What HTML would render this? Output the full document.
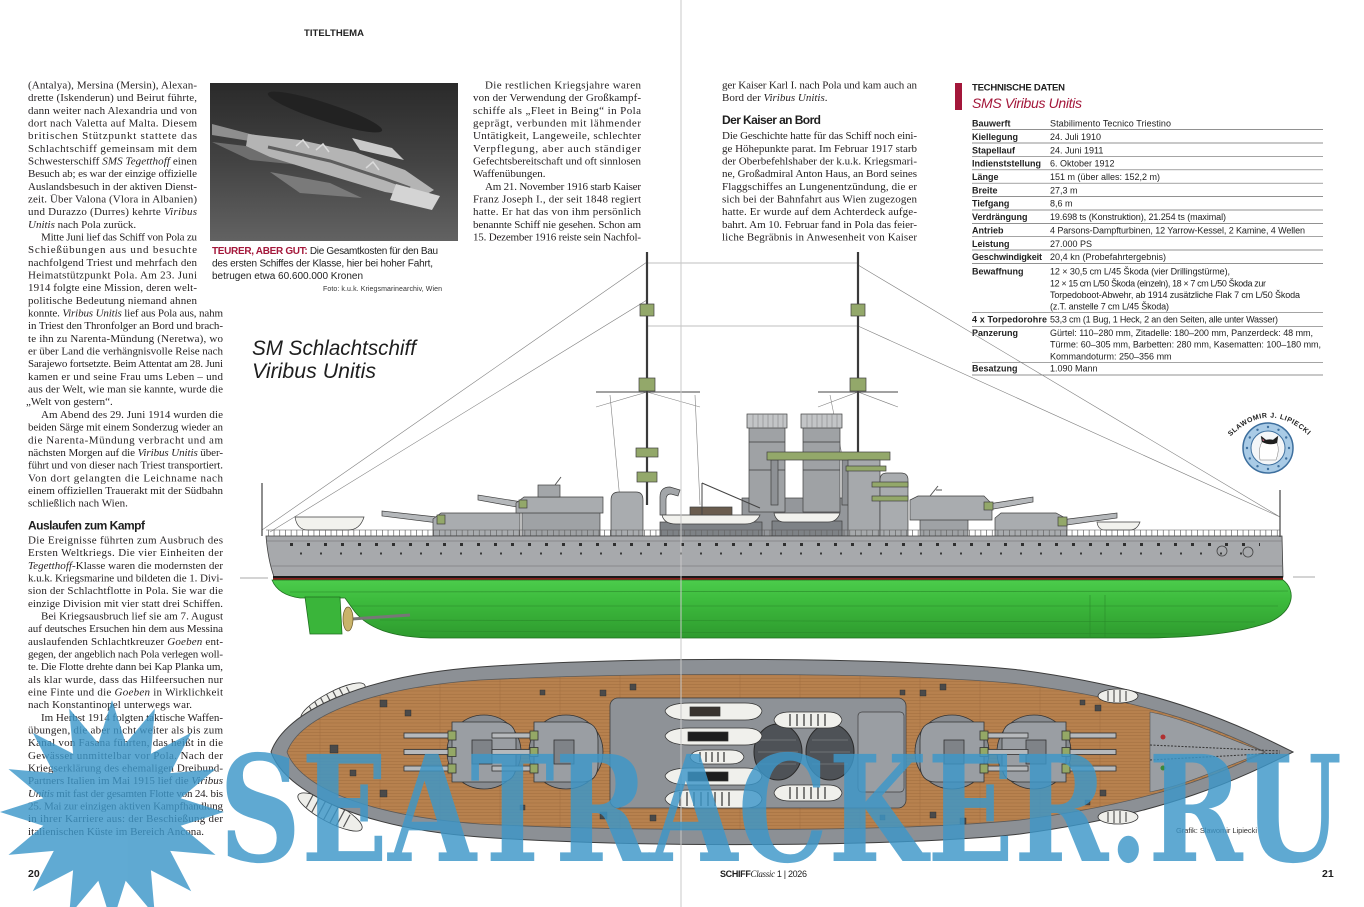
<!DOCTYPE html>
<html><head><meta charset="utf-8"><style>
html,body{margin:0;padding:0;background:#fff;}
svg{display:block}
.t{font-family:"Liberation Serif",serif;font-size:11px;fill:#231f20}
.s{font-family:"Liberation Sans",sans-serif}
.i{font-style:italic}
.tb{font-family:"Liberation Sans",sans-serif;font-size:9px;fill:#1e1e1e}
.tl{font-family:"Liberation Sans",sans-serif;font-size:9px;font-weight:bold;fill:#1e1e1e}
</style></head><body>
<svg xmlns="http://www.w3.org/2000/svg" width="1364" height="907" viewBox="0 0 1364 907">
<defs>
<pattern id="wood" width="60" height="3.2" patternUnits="userSpaceOnUse"><rect width="60" height="3.2" fill="#b7814e"/><line x1="0" y1="3" x2="60" y2="3" stroke="#9d6b3d" stroke-width="0.5"/><line x1="20" y1="0" x2="20" y2="3" stroke="#9d6b3d" stroke-width="0.4"/></pattern>
<linearGradient id="ph" x1="0" y1="0" x2="0" y2="1"><stop offset="0" stop-color="#2a2a2a"/><stop offset="0.5" stop-color="#434343"/><stop offset="1" stop-color="#626262"/></linearGradient>
<linearGradient id="grn" x1="0" y1="0" x2="0" y2="1"><stop offset="0" stop-color="#4ccc4c"/><stop offset="0.35" stop-color="#3dbb3d"/><stop offset="1" stop-color="#2e9a2e"/></linearGradient>
</defs>
<rect width="1364" height="907" fill="#fff"/>

<text class="s" x="304" y="36" font-size="9.5" font-weight="bold" fill="#222" textLength="60" lengthAdjust="spacing">TITELTHEMA</text>

<!-- LEFT COLUMN -->
<text class="t" x="28" y="88.5" textLength="169" lengthAdjust="spacing">(Antalya), Mersina (Mersin), Alexan-</text>
<text class="t" x="28" y="101.2" textLength="169" lengthAdjust="spacing">drette (Iskenderun) und Beirut führte,</text>
<text class="t" x="28" y="113.8" textLength="169" lengthAdjust="spacing">dann weiter nach Alexandria und von</text>
<text class="t" x="28" y="126.5" textLength="169" lengthAdjust="spacing">dort nach Valetta auf Malta. Diesem</text>
<text class="t" x="28" y="139.2" textLength="169" lengthAdjust="spacing">britischen Stützpunkt stattete das</text>
<text class="t" x="28" y="151.9" textLength="169" lengthAdjust="spacing">Schlachtschiff gemeinsam mit dem</text>
<text class="t" x="28" y="164.5" textLength="169" lengthAdjust="spacing">Schwesterschiff <tspan class="i">SMS Tegetthoff</tspan> einen</text>
<text class="t" x="28" y="177.2" textLength="169" lengthAdjust="spacing">Besuch ab; es war der einzige offizielle</text>
<text class="t" x="28" y="189.9" textLength="169" lengthAdjust="spacing">Auslandsbesuch in der aktiven Dienst-</text>
<text class="t" x="28" y="202.5" textLength="169" lengthAdjust="spacing">zeit. Über Valona (Vlora in Albanien)</text>
<text class="t" x="28" y="215.2" textLength="169" lengthAdjust="spacing">und Durazzo (Durres) kehrte <tspan class="i">Viribus</tspan></text>
<text class="t" x="28" y="227.9"><tspan class="i">Unitis</tspan> nach Pola zurück.</text>
<text class="t" x="41" y="240.5" textLength="156" lengthAdjust="spacing">Mitte Juni lief das Schiff von Pola zu</text>
<text class="t" x="28" y="253.2" textLength="169" lengthAdjust="spacing">Schießübungen aus und besuchte</text>
<text class="t" x="28" y="265.9" textLength="169" lengthAdjust="spacing">nachfolgend Triest und mehrfach den</text>
<text class="t" x="28" y="278.6" textLength="169" lengthAdjust="spacing">Heimatstützpunkt Pola. Am 23. Juni</text>
<text class="t" x="28" y="291.2" textLength="169" lengthAdjust="spacing">1914 folgte eine Mission, deren welt-</text>
<text class="t" x="28" y="303.9" textLength="169" lengthAdjust="spacing">politische Bedeutung niemand ahnen</text>
<text class="t" x="28" y="316.6" textLength="195" lengthAdjust="spacing">konnte. <tspan class="i">Viribus Unitis</tspan> lief aus Pola aus, nahm</text>
<text class="t" x="28" y="329.2" textLength="195" lengthAdjust="spacing">in Triest den Thronfolger an Bord und brach-</text>
<text class="t" x="28" y="341.9" textLength="195" lengthAdjust="spacing">te ihn zu Narenta-Mündung (Neretwa), wo</text>
<text class="t" x="28" y="354.6" textLength="195" lengthAdjust="spacing">er über Land die verhängnisvolle Reise nach</text>
<text class="t" x="28" y="367.2" textLength="195" lengthAdjust="spacing">Sarajewo fortsetzte. Beim Attentat am 28. Juni</text>
<text class="t" x="28" y="379.9" textLength="195" lengthAdjust="spacing">kamen er und seine Frau ums Leben – und</text>
<text class="t" x="28" y="392.6" textLength="195" lengthAdjust="spacing">aus der Welt, wie man sie kannte, wurde die</text>
<text class="t" x="26" y="405.2">„Welt von gestern“.</text>
<text class="t" x="41" y="417.9" textLength="182" lengthAdjust="spacing">Am Abend des 29. Juni 1914 wurden die</text>
<text class="t" x="28" y="430.6" textLength="195" lengthAdjust="spacing">beiden Särge mit einem Sonderzug wieder an</text>
<text class="t" x="28" y="443.3" textLength="195" lengthAdjust="spacing">die Narenta-Mündung verbracht und am</text>
<text class="t" x="28" y="455.9" textLength="195" lengthAdjust="spacing">nächsten Morgen auf die <tspan class="i">Viribus Unitis</tspan> über-</text>
<text class="t" x="28" y="468.6" textLength="195" lengthAdjust="spacing">führt und von dieser nach Triest transportiert.</text>
<text class="t" x="28" y="481.3" textLength="195" lengthAdjust="spacing">Von dort gelangten die Leichname nach</text>
<text class="t" x="28" y="493.9" textLength="195" lengthAdjust="spacing">einem offiziellen Trauerakt mit der Südbahn</text>
<text class="t" x="28" y="506.6">schließlich nach Wien.</text>
<text class="s" x="28" y="529.5" font-size="12" font-weight="bold" fill="#1e1e1e" textLength="117" lengthAdjust="spacing">Auslaufen zum Kampf</text>
<text class="t" x="28" y="543.5" textLength="195" lengthAdjust="spacing">Die Ereignisse führten zum Ausbruch des</text>
<text class="t" x="28" y="556.2" textLength="195" lengthAdjust="spacing">Ersten Weltkriegs. Die vier Einheiten der</text>
<text class="t" x="28" y="568.8" textLength="195" lengthAdjust="spacing"><tspan class="i">Tegetthoff</tspan>-Klasse waren die modernsten der</text>
<text class="t" x="28" y="581.5" textLength="195" lengthAdjust="spacing">k.u.k. Kriegsmarine und bildeten die 1. Divi-</text>
<text class="t" x="28" y="594.2" textLength="195" lengthAdjust="spacing">sion der Schlachtflotte in Pola. Sie war die</text>
<text class="t" x="28" y="606.9" textLength="195" lengthAdjust="spacing">einzige Division mit vier statt drei Schiffen.</text>
<text class="t" x="41" y="619.5" textLength="182" lengthAdjust="spacing">Bei Kriegsausbruch lief sie am 7. August</text>
<text class="t" x="28" y="632.2" textLength="195" lengthAdjust="spacing">auf deutsches Ersuchen hin dem aus Messina</text>
<text class="t" x="28" y="644.9" textLength="195" lengthAdjust="spacing">auslaufenden Schlachtkreuzer <tspan class="i">Goeben</tspan> ent-</text>
<text class="t" x="28" y="657.5" textLength="195" lengthAdjust="spacing">gegen, der angeblich nach Pola verlegen woll-</text>
<text class="t" x="28" y="670.2" textLength="195" lengthAdjust="spacing">te. Die Flotte drehte dann bei Kap Planka um,</text>
<text class="t" x="28" y="682.9" textLength="195" lengthAdjust="spacing">als klar wurde, dass das Hilfeersuchen nur</text>
<text class="t" x="28" y="695.5" textLength="195" lengthAdjust="spacing">eine Finte und die <tspan class="i">Goeben</tspan> in Wirklichkeit</text>
<text class="t" x="28" y="708.2" textLength="164" lengthAdjust="spacing">nach Konstantinopel unterwegs war.</text>
<text class="t" x="41" y="720.9" textLength="182" lengthAdjust="spacing">Im Herbst 1914 folgten taktische Waffen-</text>
<text class="t" x="28" y="733.6" textLength="195" lengthAdjust="spacing">übungen, die aber nicht weiter als bis zum</text>
<text class="t" x="28" y="746.2" textLength="195" lengthAdjust="spacing">Kanal von Fasana führten, das heißt in die</text>
<text class="t" x="28" y="758.9" textLength="195" lengthAdjust="spacing">Gewässer unmittelbar vor Pola. Nach der</text>
<text class="t" x="28" y="771.6" textLength="195" lengthAdjust="spacing">Kriegserklärung des ehemaligen Dreibund-</text>
<text class="t" x="28" y="784.2" textLength="195" lengthAdjust="spacing">Partners Italien im Mai 1915 lief die <tspan class="i">Viribus</tspan></text>
<text class="t" x="28" y="796.9" textLength="195" lengthAdjust="spacing"><tspan class="i">Unitis</tspan> mit fast der gesamten Flotte von 24. bis</text>
<text class="t" x="28" y="809.6" textLength="195" lengthAdjust="spacing">25. Mai zur einzigen aktiven Kampfhandlung</text>
<text class="t" x="28" y="822.2" textLength="195" lengthAdjust="spacing">in ihrer Karriere aus: der Beschießung der</text>
<text class="t" x="28" y="834.9" textLength="176" lengthAdjust="spacing">italienischen Küste im Bereich Ancona.</text>

<!-- PHOTO -->
<rect x="210" y="83" width="248" height="158" fill="url(#ph)"/>
<ellipse cx="325" cy="112" rx="60" ry="9" fill="#222" transform="rotate(18 325 112)"/>
<path d="M212 124 L258 136 L262 143 L212 135 Z" fill="#8e8e8e"/>
<path d="M212 142 L262 148 L300 165 L250 160 Z" fill="#6e6e6e"/>
<path d="M248 134 L300 140 L355 152 L405 170 L434 190 L420 198 L385 192 L325 174 L270 157 L246 146 Z" fill="#b4b4b4"/>
<path d="M268 147 L330 161 L385 179 L410 188" stroke="#5e5e5e" stroke-width="3" fill="none"/>
<path d="M296 146 l7 -6 l6 8 M316 150 l7 -6 l6 8 M366 168 l7 -6 l6 8" stroke="#dadada" stroke-width="1.5" fill="none"/>
<path d="M396 184 L440 196 L432 210 L390 200 Z" fill="#d4d4d4"/>
<path d="M352 138 L392 148 L404 160 L360 150 Z" fill="#c9c9c9"/>
<path d="M270 172 L330 183 L362 198 L300 193 Z" fill="#7a7a7a"/>

<!-- caption -->
<text class="s" x="212" y="254" font-size="10" fill="#1e1e1e" textLength="226" lengthAdjust="spacing"><tspan font-weight="bold" fill="#a3173a">TEURER, ABER GUT:</tspan> Die Gesamtkosten für den Bau</text>
<text class="s" x="212" y="266.5" font-size="10" fill="#1e1e1e" textLength="221" lengthAdjust="spacing">des ersten Schiffes der Klasse, hier bei hoher Fahrt,</text>
<text class="s" x="212" y="279" font-size="10" fill="#1e1e1e" textLength="151" lengthAdjust="spacing">betrugen etwa 60.600.000 Kronen</text>
<text class="s" x="323" y="291" font-size="7" fill="#333" textLength="119" lengthAdjust="spacing">Foto: k.u.k. Kriegsmarinearchiv, Wien</text>

<!-- MIDDLE COLUMN -->
<text class="t" x="485" y="88.5" textLength="156" lengthAdjust="spacing">Die restlichen Kriegsjahre waren</text>
<text class="t" x="473" y="101.2" textLength="168" lengthAdjust="spacing">von der Verwendung der Großkampf-</text>
<text class="t" x="473" y="113.8" textLength="168" lengthAdjust="spacing">schiffe als „Fleet in Being“ in Pola</text>
<text class="t" x="473" y="126.5" textLength="168" lengthAdjust="spacing">geprägt, verbunden mit lähmender</text>
<text class="t" x="473" y="139.2" textLength="168" lengthAdjust="spacing">Untätigkeit, Langeweile, schlechter</text>
<text class="t" x="473" y="151.9" textLength="168" lengthAdjust="spacing">Verpflegung, aber auch ständiger</text>
<text class="t" x="473" y="164.5" textLength="168" lengthAdjust="spacing">Gefechtsbereitschaft und oft sinnlosen</text>
<text class="t" x="473" y="177.2">Waffenübungen.</text>
<text class="t" x="485" y="189.9" textLength="156" lengthAdjust="spacing">Am 21. November 1916 starb Kaiser</text>
<text class="t" x="473" y="202.5" textLength="168" lengthAdjust="spacing">Franz Joseph I., der seit 1848 regiert</text>
<text class="t" x="473" y="215.2" textLength="168" lengthAdjust="spacing">hatte. Er hat das von ihm persönlich</text>
<text class="t" x="473" y="227.9" textLength="168" lengthAdjust="spacing">benannte Schiff nie gesehen. Schon am</text>
<text class="t" x="473" y="240.5" textLength="168" lengthAdjust="spacing">15. Dezember 1916 reiste sein Nachfol-</text>

<!-- RIGHT TEXT COLUMN -->
<text class="t" x="722" y="88.5" textLength="195" lengthAdjust="spacing">ger Kaiser Karl I. nach Pola und kam auch an</text>
<text class="t" x="722" y="101.2">Bord der <tspan class="i">Viribus Unitis</tspan>.</text>
<text class="s" x="722" y="124" font-size="12" font-weight="bold" fill="#1e1e1e" textLength="99" lengthAdjust="spacing">Der Kaiser an Bord</text>
<text class="t" x="722" y="139.2" textLength="195" lengthAdjust="spacing">Die Geschichte hatte für das Schiff noch eini-</text>
<text class="t" x="722" y="151.9" textLength="195" lengthAdjust="spacing">ge Höhepunkte parat. Im Februar 1917 starb</text>
<text class="t" x="722" y="164.5" textLength="195" lengthAdjust="spacing">der Oberbefehlshaber der k.u.k. Kriegsmari-</text>
<text class="t" x="722" y="177.2" textLength="195" lengthAdjust="spacing">ne, Großadmiral Anton Haus, an Bord seines</text>
<text class="t" x="722" y="189.9" textLength="195" lengthAdjust="spacing">Flaggschiffes an Lungenentzündung, die er</text>
<text class="t" x="722" y="202.5" textLength="195" lengthAdjust="spacing">sich bei der Bahnfahrt aus Wien zugezogen</text>
<text class="t" x="722" y="215.2" textLength="195" lengthAdjust="spacing">hatte. Er wurde auf dem Achterdeck aufge-</text>
<text class="t" x="722" y="227.9" textLength="195" lengthAdjust="spacing">bahrt. Am 10. Februar fand in Pola das feier-</text>
<text class="t" x="722" y="240.5" textLength="195" lengthAdjust="spacing">liche Begräbnis in Anwesenheit von Kaiser</text>

<!-- TECH DATA -->
<rect x="955" y="83" width="7" height="27" fill="#a3173a"/>
<text class="s" x="972" y="90.5" font-size="9.5" font-weight="bold" fill="#1e1e1e" textLength="93" lengthAdjust="spacing">TECHNISCHE DATEN</text>
<text class="s" x="972" y="108" font-size="14" font-style="italic" fill="#a3173a" textLength="110" lengthAdjust="spacing">SMS Viribus Unitis</text>
<g stroke="#6d6d6d" stroke-width="0.7">
<path d="M972 129.5H1323M972 143H1323M972 156.3H1323M972 169.8H1323M972 183.2H1323M972 196.6H1323M972 210H1323M972 223.4H1323M972 236.7H1323M972 250H1323M972 263.4H1323M972 312.7H1323M972 326.7H1323M972 362.3H1323M972 375H1323"/>
</g>
<text class="tl" x="972" y="126.3">Bauwerft</text>
<text class="tb" x="1050" y="126.3" textLength="121" lengthAdjust="spacing">Stabilimento Tecnico Triestino</text>
<text class="tl" x="972" y="139.8">Kiellegung</text>
<text class="tb" x="1050" y="139.8">24. Juli 1910</text>
<text class="tl" x="972" y="153.3">Stapellauf</text>
<text class="tb" x="1050" y="153.3">24. Juni 1911</text>
<text class="tl" x="972" y="166.6">Indienststellung</text>
<text class="tb" x="1050" y="166.6">6. Oktober 1912</text>
<text class="tl" x="972" y="180">Länge</text>
<text class="tb" x="1050" y="180">151 m (über alles: 152,2 m)</text>
<text class="tl" x="972" y="193.3">Breite</text>
<text class="tb" x="1050" y="193.3">27,3 m</text>
<text class="tl" x="972" y="206.6">Tiefgang</text>
<text class="tb" x="1050" y="206.6">8,6 m</text>
<text class="tl" x="972" y="220">Verdrängung</text>
<text class="tb" x="1050" y="220" textLength="176" lengthAdjust="spacing">19.698 ts (Konstruktion), 21.254 ts (maximal)</text>
<text class="tl" x="972" y="233.3">Antrieb</text>
<text class="tb" x="1050" y="233.3" textLength="255" lengthAdjust="spacing">4 Parsons-Dampfturbinen, 12 Yarrow-Kessel, 2 Kamine, 4 Wellen</text>
<text class="tl" x="972" y="246.8">Leistung</text>
<text class="tb" x="1050" y="246.8">27.000 PS</text>
<text class="tl" x="972" y="260" textLength="70" lengthAdjust="spacing">Geschwindigkeit</text>
<text class="tb" x="1050" y="260" textLength="116" lengthAdjust="spacing">20,4 kn (Probefahrtergebnis)</text>
<text class="tl" x="972" y="274.3">Bewaffnung</text>
<text class="tb" x="1050" y="274.3" textLength="180" lengthAdjust="spacing">12 × 30,5 cm L/45 Škoda (vier Drillingstürme),</text>
<text class="tb" x="1050" y="286.3" textLength="216" lengthAdjust="spacing">12 × 15 cm L/50 Škoda (einzeln), 18 × 7 cm L/50 Škoda zur</text>
<text class="tb" x="1050" y="297.8" textLength="250" lengthAdjust="spacing">Torpedoboot-Abwehr, ab 1914 zusätzliche Flak 7 cm L/50 Škoda</text>
<text class="tb" x="1050" y="309.3" textLength="119" lengthAdjust="spacing">(z.T. anstelle 7 cm L/45 Škoda)</text>
<text class="tl" x="972" y="322.6" textLength="75" lengthAdjust="spacing">4 x Torpedorohre</text>
<text class="tb" x="1050" y="322.6" textLength="228" lengthAdjust="spacing">53,3 cm (1 Bug, 1 Heck, 2 an den Seiten, alle unter Wasser)</text>
<text class="tl" x="972" y="336">Panzerung</text>
<text class="tb" x="1050" y="336" textLength="263" lengthAdjust="spacing">Gürtel: 110–280 mm, Zitadelle: 180–200 mm, Panzerdeck: 48 mm,</text>
<text class="tb" x="1050" y="347.6" textLength="271" lengthAdjust="spacing">Türme: 60–305 mm, Barbetten: 280 mm, Kasematten: 100–180 mm,</text>
<text class="tb" x="1050" y="359.3">Kommandoturm: 250–356 mm</text>
<text class="tl" x="972" y="371.6">Besatzung</text>
<text class="tb" x="1050" y="371.6">1.090 Mann</text>

<!-- Title -->
<text class="s" x="252" y="355" font-size="21" font-style="italic" fill="#1e1e1e" textLength="164" lengthAdjust="spacingAndGlyphs">SM Schlachtschiff</text>
<text class="s" x="252" y="378" font-size="21" font-style="italic" fill="#1e1e1e" textLength="124" lengthAdjust="spacingAndGlyphs">Viribus Unitis</text>

<!-- LOGO -->
<path id="arc" d="M1229 438 Q1268 398 1309 436" fill="none"/>
<text class="s" font-size="7" font-weight="bold" fill="#222"><textPath href="#arc" startOffset="2" textLength="88" lengthAdjust="spacing">SLAWOMIR J. LIPIECKI</textPath></text>
<circle cx="1268" cy="448" r="25" fill="#a9cbe6" stroke="#3d6f9e" stroke-width="1.5"/>
<circle cx="1268" cy="448" r="17" fill="#f4f6f8" stroke="#3d6f9e" stroke-width="1"/>
<g fill="#3d6f9e"><circle cx="1289" cy="448" r="1.2"/><circle cx="1286.2" cy="458.5" r="1.2"/><circle cx="1278.5" cy="466.2" r="1.2"/><circle cx="1268" cy="469" r="1.2"/><circle cx="1257.5" cy="466.2" r="1.2"/><circle cx="1249.8" cy="458.5" r="1.2"/><circle cx="1247" cy="448" r="1.2"/><circle cx="1249.8" cy="437.5" r="1.2"/><circle cx="1257.5" cy="429.8" r="1.2"/><circle cx="1268" cy="427" r="1.2"/><circle cx="1278.5" cy="429.8" r="1.2"/><circle cx="1286.2" cy="437.5" r="1.2"/></g>
<path d="M1260 460 Q1258 448 1262 442 L1261 436 L1266 440 Q1270 439 1273 440 L1278 436 L1277 443 Q1280 450 1276 460 Z" fill="#fff" stroke="#777" stroke-width="0.5"/>
<path d="M1262 442 L1261 436 L1266 440 Q1270 439 1273 440 L1278 436 L1277 443 Q1270 446 1262 442 Z" fill="#1e1e1e"/>
<path d="M1262.5 438.5 L1264.5 440.5 L1262.8 441 Z" fill="#e07090"/>

<!-- SIDE VIEW -->
<g fill="none" stroke="#808080" stroke-width="0.6">
<path d="M647 263 L858 263 M647 326 L858 326 M647 262 L262 530 M647 300 L270 532 M858 265 L1280 517 M858 326 L1280 517 M596 407 L647 392 L700 407 M818 407 L858 392 L898 407 M610 395 L620 500 M695 395 L700 505 M830 395 L845 470"/>
</g>
<path d="M647 252 V505 M858 252 V460" stroke="#3a3a3a" stroke-width="2.2"/>
<path d="M596 392 H700 M818 392 H898" stroke="#444" stroke-width="1"/>
<g fill="#93a86a" stroke="#3f3f3f" stroke-width="0.7">
<rect x="640" y="304" width="14" height="12"/><rect x="639" y="378" width="16" height="13"/><rect x="636" y="448" width="22" height="9"/><rect x="637" y="472" width="20" height="10"/>
<rect x="851" y="304" width="14" height="12"/><rect x="850" y="378" width="16" height="13"/>
</g>
<g stroke="#3f3f3f" stroke-width="0.7">
<rect x="742" y="498" width="108" height="38" fill="#94979b"/>
<rect x="749" y="427" width="36" height="85" fill="#9fa2a5"/>
<rect x="747" y="414" width="40" height="14" fill="#c3c5c7"/>
<rect x="803" y="427" width="37" height="85" fill="#9fa2a5"/>
<rect x="801" y="414" width="41" height="14" fill="#c3c5c7"/>
<path d="M753 414V428M758 414V428M763 414V428M768 414V428M773 414V428M778 414V428M783 414V428M807 414V428M812 414V428M817 414V428M822 414V428M827 414V428M832 414V428M837 414V428" stroke="#7a7a7a" stroke-width="0.5"/>
<path d="M749 442H785M749 470H785M803 442H840M803 470H840" fill="none"/>
<rect x="771" y="460" width="7" height="45" fill="#8e9195"/>
<rect x="842" y="460" width="8" height="45" fill="#8e9195"/>
<rect x="767" y="452" width="123" height="8" fill="#93a86a"/>
<rect x="848" y="460" width="32" height="76" fill="#a6a9ac"/>
<path d="M880 537 V480 Q880 473 887 473 H901 Q908 473 908 480 V537 Z" fill="#a9acaf"/>
<rect x="846" y="466" width="40" height="5" fill="#93a86a"/>
<rect x="872" y="482" width="36" height="5" fill="#93a86a"/>
<rect x="872" y="496" width="36" height="5" fill="#93a86a"/>
<path d="M611 536 V500 Q611 492 619 492 H636 Q643 492 643 500 V536 Z" fill="#a9acaf"/>
<path d="M660 515 V497 Q660 487 670 487 L680 490 L678 496 L671 494 Q666 494 666 500 V515 Z" fill="#a3a6a9"/>
<rect x="660" y="522" width="102" height="14" fill="#7e8286"/>
<rect x="772" y="521" width="70" height="15" fill="#7e8286"/>
<path d="M662 515 H760 Q756 524 745 524 H676 Q664 524 662 515 Z" fill="#f2f2ee"/>
<rect x="690" y="507" width="42" height="8" fill="#6a5c4e"/>
<path d="M774 513 H840 Q837 522 828 522 H784 Q776 522 774 513 Z" fill="#f2f2ee"/>
<path d="M702 483 L760 508 M702 483 V515" fill="none" stroke="#444" stroke-width="1"/>
<path d="M446 518 L382 511 L382 516 L446 524 Z" fill="#b5b8bb"/>
<path d="M433 536 V519 L441 513 H520 V536 Z" fill="#a9acaf"/>
<rect x="437" y="515" width="8" height="9" fill="#93a86a"/>
<rect x="522" y="512" width="78" height="24" fill="#9fa2a5"/>
<path d="M522 502 L478 495 L478 500 L522 508 Z" fill="#b5b8bb"/>
<path d="M516 513 V503 L524 497 H603 V513 Z" fill="#a9acaf"/>
<rect x="519" y="500" width="8" height="8" fill="#93a86a"/>
<rect x="538" y="485" width="22" height="12" fill="#a3a6a9"/>
<rect x="920" y="518" width="48" height="19" fill="#9fa2a5"/>
<path d="M988 504 L1033 497 L1033 502 L988 510 Z" fill="#b5b8bb"/>
<path d="M910 520 V500 L918 496 H984 L992 504 V520 Z" fill="#a9acaf"/>
<rect x="984" y="502" width="9" height="8" fill="#93a86a"/>
<path d="M1060 520 L1117 513 L1117 518 L1060 526 Z" fill="#b5b8bb"/>
<path d="M995 537 V518 L1001 513 H1056 L1067 519 V537 Z" fill="#a9acaf"/>
<rect x="1058" y="517" width="9" height="9" fill="#93a86a"/>
<path d="M295 517 H364 Q360 530 348 530 H308 Q297 530 295 517 Z" fill="#f2f2ee"/>
<path d="M1097 522 H1140 Q1137 530 1130 530 H1105 Q1098 530 1097 522 Z" fill="#f2f2ee"/>
</g>
<path d="M930 496 l8 -10 M936 490 h6 M555 485 l6 -8" stroke="#555" stroke-width="1"/>
<path d="M266 530 H1280" stroke="#555" stroke-width="0.6"/>
<path d="M268 533 H1280" stroke="#666" stroke-width="6" stroke-dasharray="0.7 5"/>
<path d="M266 536 H1282 L1283 577 H274 Q268 560 266 536 Z" fill="#a7a9ac" stroke="#3f3f3f" stroke-width="0.8"/>
<path d="M266 541 H1282 M271 566 H1283" stroke="#6a6a6a" stroke-width="0.6"/>
<path d="M290 544.5 H1260" stroke="#2f2f2f" stroke-width="3" stroke-dasharray="3 14"/>
<path d="M300 553.5 H1250" stroke="#3a3a3a" stroke-width="2" stroke-dasharray="2 18"/>
<g fill="none" stroke="#444" stroke-width="0.8"><circle cx="1222" cy="551" r="5"/><circle cx="1248" cy="552" r="5"/></g>
<rect x="273" y="576" width="1010" height="2" fill="#1a1a1a"/>
<rect x="273" y="578" width="1010" height="2" fill="#8a1c1c"/>
<path d="M240 578 H268 M1293 577 H1315" stroke="#555" stroke-width="0.6"/>
<path d="M272 580 L1283 580 C1296 590 1295 610 1270 622 C1240 633 1200 637 1150 638 L430 638 C395 637 370 630 355 612 L345 598 L300 598 C285 596 276 590 272 580 Z" fill="url(#grn)" stroke="#1f6f1f" stroke-width="0.8"/>
<g fill="none" stroke="#2a8a2a" stroke-width="0.6">
<path d="M290 592 C700 594 1100 594 1288 591"/>
<path d="M350 606 C700 608 1000 608 1278 606"/>
<path d="M380 620 C700 622 1000 622 1255 622"/>
<path d="M420 631 C700 633 1000 633 1190 634"/>
<path d="M1090 595 V637 M1105 595 V637"/>
</g>
<path d="M305 597 L340 597 L342 634 L310 634 Z" fill="#3ab53a" stroke="#1f6f1f" stroke-width="0.8"/>
<path d="M352 619 L410 615" stroke="#777" stroke-width="3"/>
<ellipse cx="348" cy="619" rx="5" ry="12" fill="#c9b36a" stroke="#6b5a2a" stroke-width="0.7"/>
<path d="M262 483 V536 M1280 490 V537" stroke="#444" stroke-width="1.2"/>

<!-- TOP VIEW -->
<g transform="rotate(-28 333 702)"><ellipse cx="333" cy="702" rx="36" ry="10" fill="#eeeeea" stroke="#333" stroke-width="0.8"/><path d="M310 695V709M317 693V711M324 692V712M331 692V712M338 692V712M345 693V711M352 695V709" stroke="#555" stroke-width="1.2"/></g>
<g transform="rotate(28 330 812)"><ellipse cx="330" cy="812" rx="36" ry="10" fill="#eeeeea" stroke="#333" stroke-width="0.8"/><path d="M307 805V819M314 803V821M321 802V822M328 802V822M335 802V822M342 803V821M349 805V819" stroke="#555" stroke-width="1.2"/></g>
<path d="M1293 752 C1245 728 1170 690 1020 670 C900 657 640 656 480 667 C360 676 285 712 271 752 C285 792 360 828 480 837 C640 848 900 847 1020 834 C1170 814 1245 776 1293 752 Z" fill="#8c9095" stroke="#3c3c3c" stroke-width="1"/>
<path d="M1265 752 C1225 733 1160 702 1020 684 C900 672 640 672 480 680 C370 688 300 716 287 752 C300 788 370 816 480 824 C640 832 900 832 1020 820 C1160 802 1225 771 1265 752 Z" fill="url(#wood)" stroke="#5a5a5a" stroke-width="0.8"/>
<path d="M1265 752 C1225 738 1190 720 1150 712 L1150 792 C1190 784 1225 766 1265 752 Z" fill="#9a9ea3" stroke="#555" stroke-width="0.6"/>
<path d="M1150 745 L1280 751 M1150 760 L1280 753" stroke="#333" stroke-width="1" stroke-dasharray="2 1.5"/>
<circle cx="1163" cy="737" r="2.5" fill="#b03030"/><circle cx="1163" cy="768" r="2.5" fill="#3a8a3a"/>
<ellipse cx="1118" cy="696" rx="20" ry="7" fill="#eeeeea" stroke="#333" stroke-width="0.8"/>
<ellipse cx="1118" cy="817" rx="20" ry="7" fill="#eeeeea" stroke="#333" stroke-width="0.8"/>
<path d="M1108 691V701M1114 690V702M1120 690V702M1126 691V701M1108 812V822M1114 811V823M1120 811V823M1126 812V822" stroke="#555" stroke-width="1.2"/>
<rect x="610" y="698" width="296" height="110" rx="8" fill="#8e9297" stroke="#3f3f3f" stroke-width="0.8"/>
<rect x="858" y="712" width="46" height="80" rx="4" fill="#9a9ea3" stroke="#3f3f3f" stroke-width="0.7"/>
<ellipse cx="778" cy="752" rx="24" ry="28" fill="#4e5257" stroke="#2a2a2a"/>
<ellipse cx="830" cy="752" rx="24" ry="28" fill="#4e5257" stroke="#2a2a2a"/>
<path d="M760 740H796M758 752H798M760 764H796M812 740H848M810 752H850M812 764H848" stroke="#6d7176" stroke-width="1"/>
<g stroke="#333" stroke-width="0.7">
<path d="M665 711 Q668 703 690 703 H745 Q760 703 762 711 Q760 720 745 720 H690 Q668 720 665 711 Z" fill="#f0f0ec"/>
<rect x="690" y="707" width="30" height="9" fill="#3a3530"/>
<path d="M665 736 Q668 728 690 728 H745 Q760 728 762 736 Q760 745 745 745 H690 Q668 745 665 736 Z" fill="#f0f0ec"/>
<rect x="688" y="732" width="40" height="9" fill="#1e1e1e"/>
<path d="M690 757 Q692 750 705 750 H730 Q742 750 744 757 Q742 764 730 764 H705 Q692 764 690 757 Z" fill="#f0f0ec"/>
<path d="M665 776 Q668 768 690 768 H745 Q760 768 762 776 Q760 785 745 785 H690 Q668 785 665 776 Z" fill="#f0f0ec"/>
<rect x="688" y="772" width="40" height="9" fill="#1e1e1e"/>
<path d="M665 799 Q668 790 690 790 H745 Q760 790 762 799 Q760 808 745 808 H690 Q668 808 665 799 Z" fill="#f0f0ec"/>
<path d="M774 720 Q776 712 790 712 H828 Q840 712 842 720 Q840 728 828 728 H790 Q776 728 774 720 Z" fill="#f0f0ec"/>
<path d="M774 793 Q776 785 790 785 H828 Q840 785 842 793 Q840 801 828 801 H790 Q776 801 774 793 Z" fill="#f0f0ec"/>
</g>
<path d="M700 752V762M706 752V762M712 752V762M718 752V762M724 752V762M680 792V806M687 792V806M694 792V806M701 792V806M708 792V806M715 792V806M722 792V806M729 792V806M790 714V726M797 714V726M804 714V726M811 714V726M818 714V726M825 714V726M790 787V799M797 787V799M804 787V799M811 787V799M818 787V799M825 787V799" stroke="#555" stroke-width="1.5"/>
<g fill="#4a4a4a" stroke="#2a2a2a" stroke-width="0.4">
<rect x="380" y="700" width="7" height="7"/><rect x="405" y="710" width="6" height="6"/><rect x="330" y="745" width="8" height="8"/><rect x="380" y="790" width="7" height="7"/><rect x="350" y="770" width="6" height="6"/>
<rect x="600" y="690" width="6" height="6"/><rect x="630" y="684" width="6" height="6"/><rect x="650" y="815" width="6" height="6"/><rect x="600" y="812" width="7" height="7"/>
<rect x="920" y="690" width="6" height="6"/><rect x="940" y="684" width="6" height="6"/><rect x="930" y="812" width="6" height="6"/><rect x="960" y="818" width="6" height="6"/>
<rect x="1095" y="705" width="6" height="6"/><rect x="1100" y="790" width="6" height="6"/><rect x="1080" y="700" width="5" height="5"/><rect x="1085" y="800" width="5" height="5"/>
<rect x="540" y="690" width="5" height="5"/><rect x="520" y="805" width="5" height="5"/><rect x="880" y="815" width="5" height="5"/><rect x="900" y="690" width="5" height="5"/>
</g>
<g stroke="#333" stroke-width="0.8">
<circle cx="484" cy="752" r="37" fill="#878b90"/>
<rect x="404" y="733" width="50" height="5" fill="#b6b9bc"/><rect x="404" y="749.5" width="50" height="5" fill="#b6b9bc"/><rect x="404" y="766" width="50" height="5" fill="#b6b9bc"/>
<path d="M452 722 L500 722 Q516 722 516 740 L516 764 Q516 782 500 782 L452 782 Z" fill="#9a9ea3"/>
<rect x="472" y="740" width="20" height="24" fill="#7f8388"/>
<rect x="448" y="731" width="8" height="9" fill="#94a866"/><rect x="448" y="747.5" width="8" height="9" fill="#94a866"/><rect x="448" y="764" width="8" height="9" fill="#94a866"/>
<circle cx="566" cy="752" r="37" fill="#878b90"/>
<rect x="492" y="733" width="44" height="5" fill="#b6b9bc"/><rect x="492" y="749.5" width="44" height="5" fill="#b6b9bc"/><rect x="492" y="766" width="44" height="5" fill="#b6b9bc"/>
<path d="M534 722 L582 722 Q598 722 598 740 L598 764 Q598 782 582 782 L534 782 Z" fill="#9a9ea3"/>
<rect x="554" y="740" width="20" height="24" fill="#7f8388"/>
<rect x="530" y="731" width="8" height="9" fill="#94a866"/><rect x="530" y="747.5" width="8" height="9" fill="#94a866"/><rect x="530" y="764" width="8" height="9" fill="#94a866"/>
<circle cx="1034" cy="752" r="37" fill="#878b90"/>
<rect x="1064" y="733" width="52" height="5" fill="#b6b9bc"/><rect x="1064" y="749.5" width="52" height="5" fill="#b6b9bc"/><rect x="1064" y="766" width="52" height="5" fill="#b6b9bc"/>
<path d="M1066 722 L1018 722 Q1002 722 1002 740 L1002 764 Q1002 782 1018 782 L1066 782 Z" fill="#9a9ea3"/>
<rect x="1026" y="740" width="20" height="24" fill="#7f8388"/>
<rect x="1062" y="731" width="8" height="9" fill="#94a866"/><rect x="1062" y="747.5" width="8" height="9" fill="#94a866"/><rect x="1062" y="764" width="8" height="9" fill="#94a866"/>
<circle cx="952" cy="752" r="37" fill="#878b90"/>
<rect x="982" y="733" width="46" height="5" fill="#b6b9bc"/><rect x="982" y="749.5" width="46" height="5" fill="#b6b9bc"/><rect x="982" y="766" width="46" height="5" fill="#b6b9bc"/>
<path d="M984 722 L936 722 Q920 722 920 740 L920 764 Q920 782 936 782 L984 782 Z" fill="#9a9ea3"/>
<rect x="944" y="740" width="20" height="24" fill="#7f8388"/>
<rect x="980" y="731" width="8" height="9" fill="#94a866"/><rect x="980" y="747.5" width="8" height="9" fill="#94a866"/><rect x="980" y="764" width="8" height="9" fill="#94a866"/>
</g>

<text class="s" x="1176" y="833" font-size="7.5" fill="#333" textLength="81" lengthAdjust="spacing">Grafik: Slawomir Lipiecki</text>

<line x1="681" y1="0" x2="681" y2="907" stroke="#c8c8c8" stroke-width="1"/>

<text class="s" x="28" y="877" font-size="10.5" font-weight="bold" fill="#1e1e1e">20</text>
<text class="s" x="720" y="877" font-size="9" fill="#1e1e1e" textLength="87" lengthAdjust="spacing"><tspan font-weight="bold">SCHIFF</tspan><tspan font-style="italic" font-family="Liberation Serif, serif">Classic</tspan> 1 | 2026</text>
<text class="s" x="1322" y="877" font-size="10.5" font-weight="bold" fill="#1e1e1e">21</text>

<g opacity="0.82" fill="#3d97c9">
<polygon points="224,812 180.7,825.7 215.5,854.9 170.2,850.9 191.2,891.2 150.9,870.2 154.9,915.5 125.7,880.7 112,924 98.3,880.7 69.1,915.5 73.1,870.2 32.8,891.2 53.8,850.9 8.5,854.9 43.3,825.7 0,812 43.3,798.3 8.5,769.1 53.8,773.1 32.8,732.8 73.1,753.8 69.1,708.5 98.3,743.3 112,700 125.7,743.3 154.9,708.5 150.9,753.8 191.2,732.8 170.2,773.1 215.5,769.1 180.7,798.3"/>
<text x="219" y="861" font-family="DejaVu Serif, Liberation Serif, serif" font-weight="bold" font-size="147" textLength="1123" lengthAdjust="spacingAndGlyphs">SEATRACKER.RU</text>
</g>
</svg>
</body></html>
